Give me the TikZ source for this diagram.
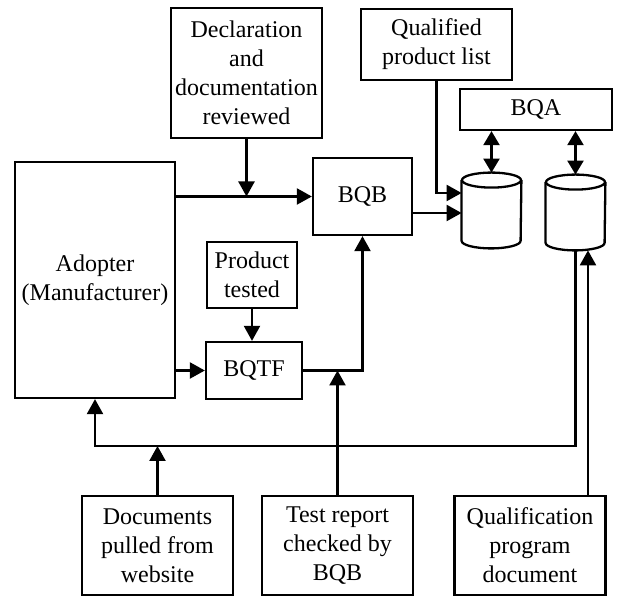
\documentclass[tikz,border=0pt]{standalone}
\usepackage{fontspec}
\setmainfont{Liberation Serif}
\usetikzlibrary{arrows.meta}
\tikzset{
  block/.style={draw, line width=1.15pt, align=center, inner sep=0pt,
    font=\fontsize{12}{14.5}\selectfont},
  store/.style={inner sep=0pt, minimum width=29.5pt, minimum height=37.5pt},
  flow/.style={line width=1.15pt, -{Triangle[length=7.5pt,width=8pt]}},
  duo/.style={line width=1.15pt, {Triangle[length=7pt,width=8pt]}-{Triangle[length=7pt,width=8pt]}},
}
\newcommand\drawStore[1]{
  \draw[line width=1.15pt, fill=white] ([yshift=-3.75pt]#1.north west)
    -- ([yshift=3.75pt]#1.south west)
    arc[start angle=180, end angle=360, x radius=14.75pt, y radius=3.75pt]
    -- ([yshift=-3.75pt]#1.north east);
  \draw[line width=1.15pt] ([yshift=-3.75pt]#1.north) ellipse [x radius=14.75pt, y radius=3.75pt];
}

\begin{document}
\begin{tikzpicture}[x=0.5pt,y=-0.5pt]
    \useasboundingbox (0,0) rectangle (618,597);

    \node[block, minimum width=75.5pt, minimum height=65pt] (decl) at (246.5,73) {Declaration\\and\\documentation\\reviewed};
    \node[block, minimum width=80pt, minimum height=118pt] (adopter) at (95,280) {Adopter\\(Manufacturer)};
    \node[block, minimum width=49.5pt, minimum height=38.5pt] (bqb) at (362.5,196.5) {BQB};
    \node[block, minimum width=45pt, minimum height=33pt] (prod) at (252,275) {Product\\tested};
    \node[block, minimum width=48pt, minimum height=28.5pt] (bqtf) at (254,370.5) {BQTF};
    \node[block, minimum width=75.5pt, minimum height=35.5pt] (qpl) at (436.5,44.5) {Qualified\\product list};
    \node[block, minimum width=76pt, minimum height=20.5pt] (bqa) at (536,109.5) {BQA};

    \node[store] (listdb) at (491.5,210.5) {};
    \node[store] (progdb) at (575.5,212.5) {};
    \drawStore{listdb}
    \drawStore{progdb}

    \foreach \name/\x/\txt in {docs/157.5/{Documents\\pulled from\\website},
                               test/337.5/{Test report\\checked by\\BQB},
                               qual/530/{Qualification\\program\\document}} {
      \node[block, minimum width=75.5pt, minimum height=49.5pt] (\name) at (\x,545.5) {\txt};
    }

    \coordinate (join) at (157.5,446);

    \draw[flow] (adopter.east |- bqb.west) -- (bqb.west);
    \draw[flow] (decl.south) -- (decl.south |- bqb.west);
    \draw[flow] (prod.south) -- (prod.south |- bqtf.north);
    \draw[flow] (adopter.east |- bqtf.west) -- (bqtf.west);
    \draw[flow] (bqtf.east) -| (bqb.south);
    \draw[flow] (test.north) -- (test.north |- bqtf.east);
    \draw[flow] (qpl.south) |- ([yshift=8.75pt]listdb.west);
    \draw[flow] (bqb.east |- 0,213) -- ([yshift=-1.25pt]listdb.west);
    \draw[duo] (bqa.south -| listdb.north) -- (listdb.north);
    \draw[duo] (bqa.south -| progdb.north) -- (progdb.north);
    \draw[flow] (progdb.south) |- (join) -| (adopter.south);
    \draw[flow] (docs.north) -- (join);
    \draw[flow] ([xshift=6.25pt]progdb.south |- qual.north) -- ([xshift=6.25pt]progdb.south);
  \end{tikzpicture}
\end{document}
